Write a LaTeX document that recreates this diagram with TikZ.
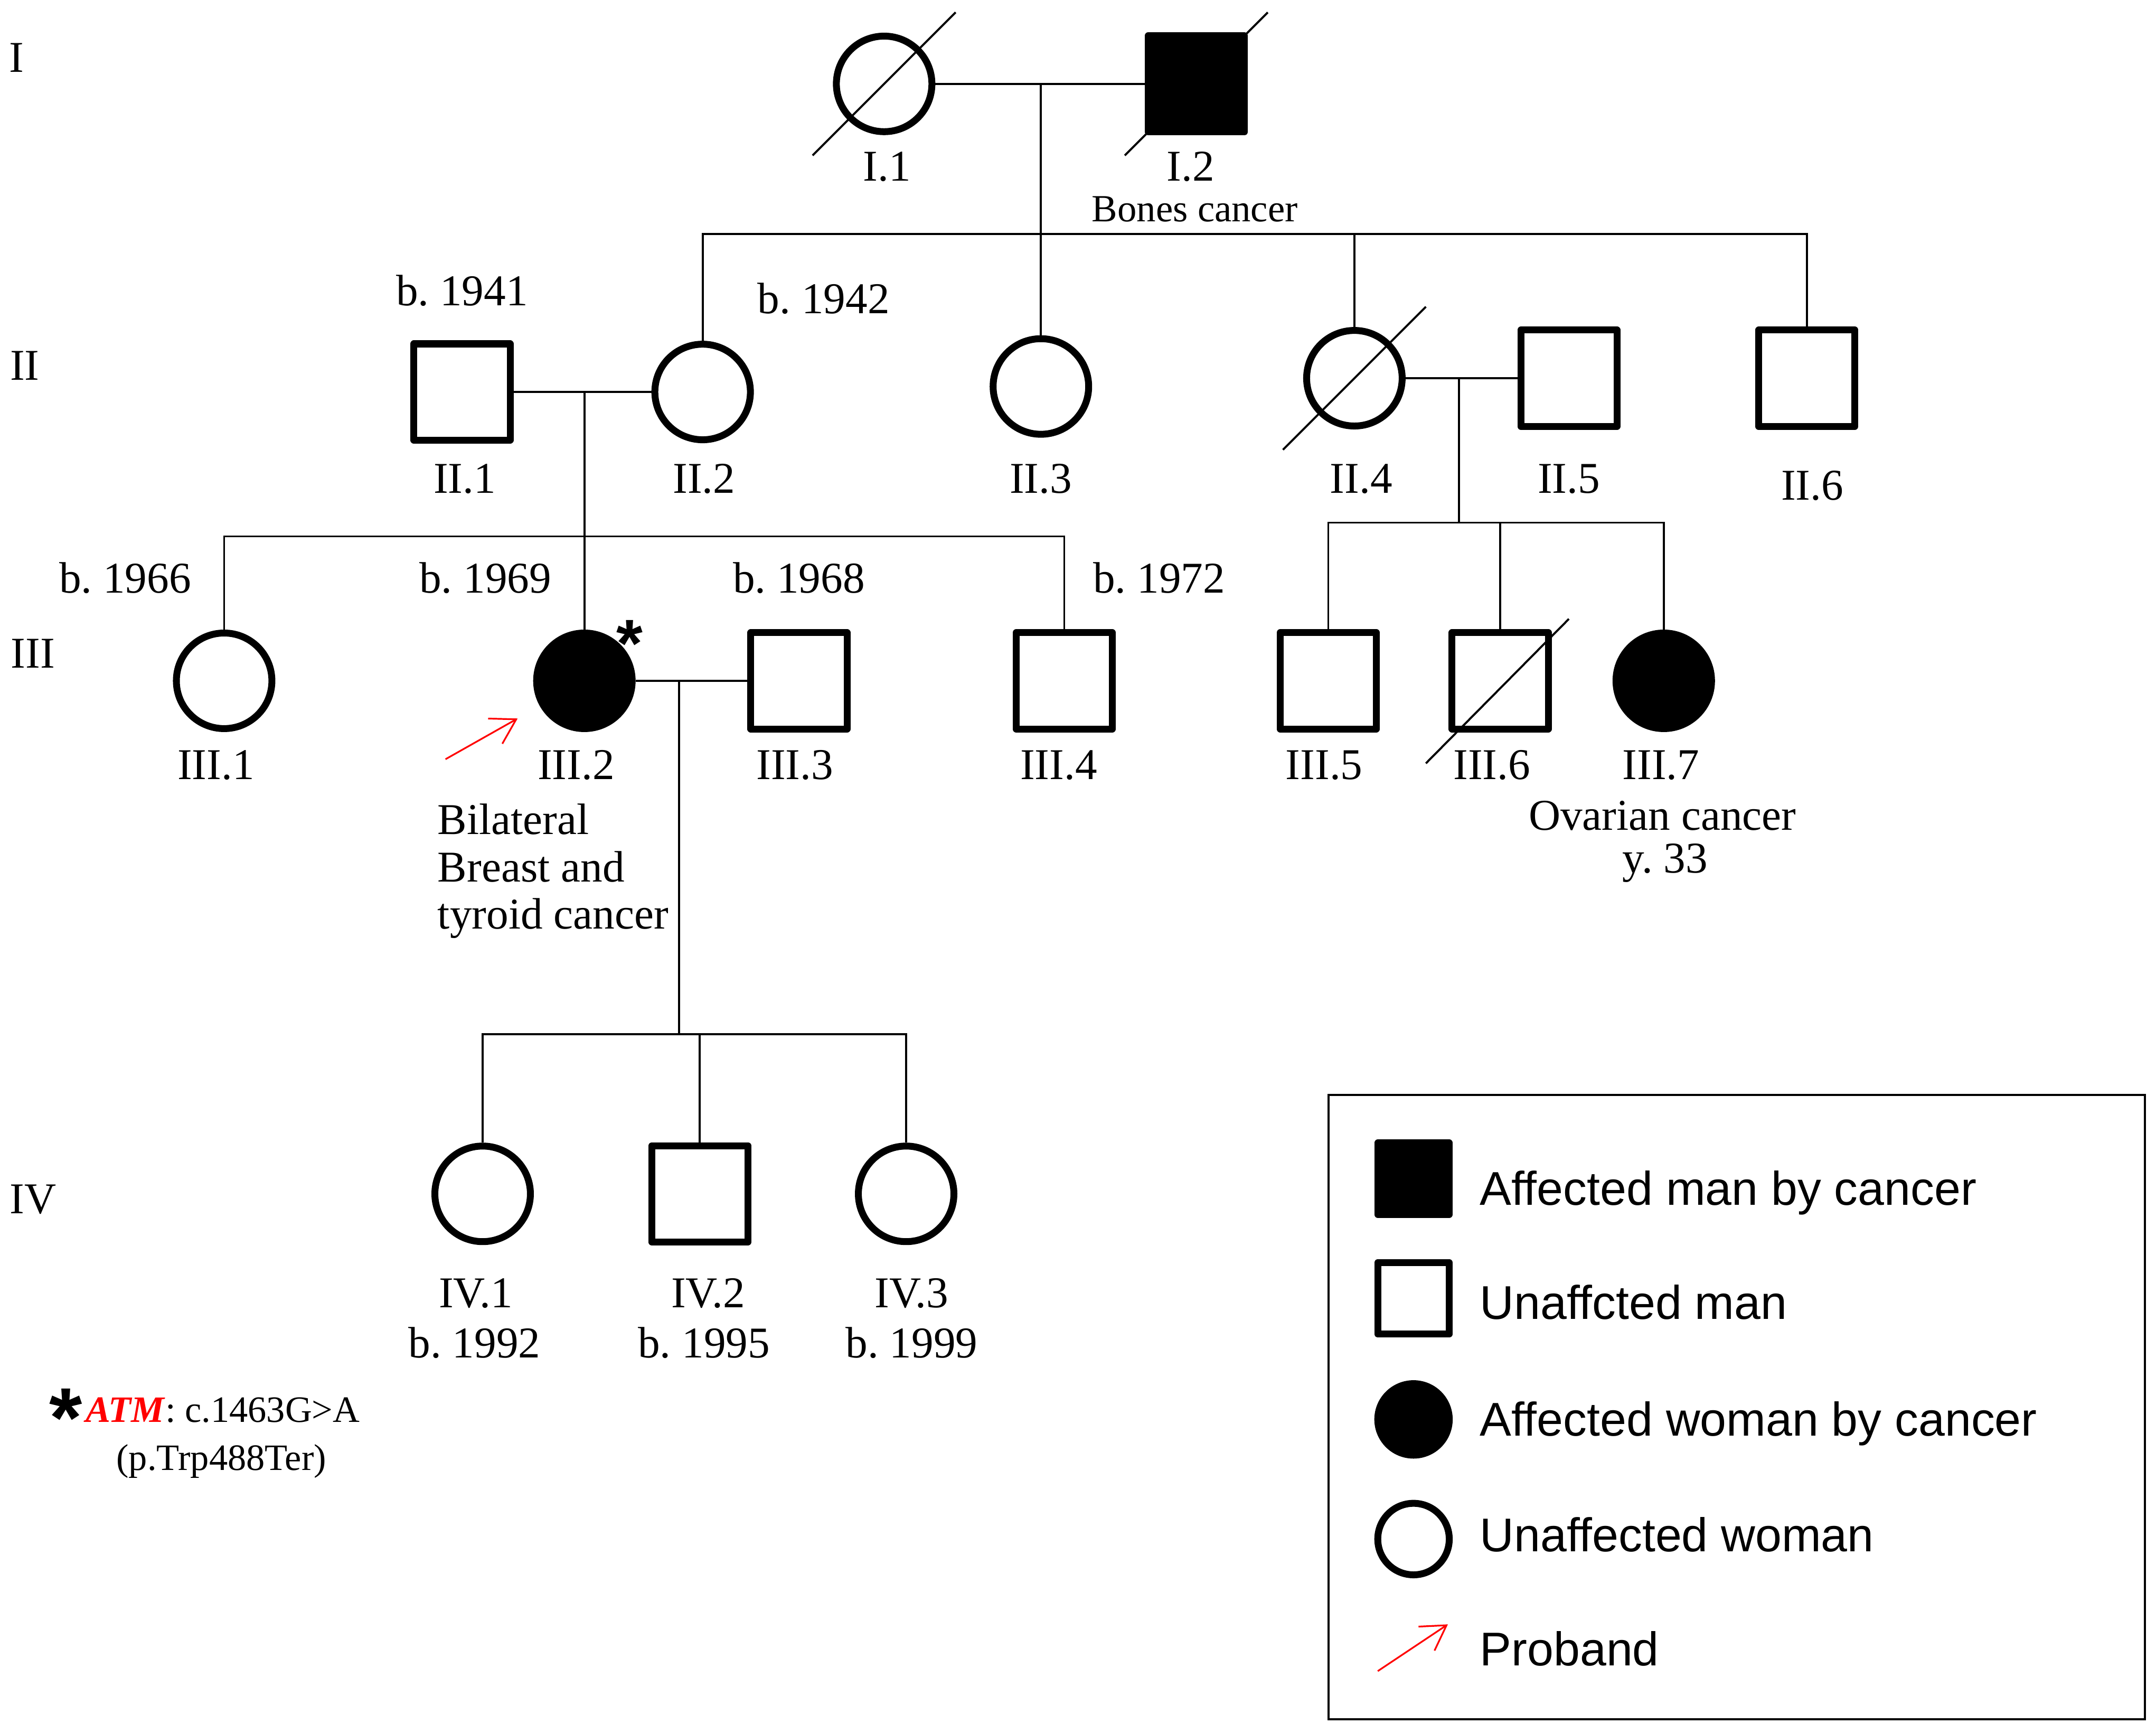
\documentclass[tikz,border=0pt]{standalone}
\usepackage{fontspec}
\setmainfont{Liberation Serif}
\setsansfont{Liberation Sans}
\usepackage{tikz}
\usetikzlibrary{arrows.meta}
\usetikzlibrary{positioning}
\frenchspacing
\newcommand{\pedfont}{\fontsize{18.2}{19.6}\selectfont}
\newcommand{\smallpedfont}{\fontsize{15.9}{17}\selectfont}
\newcommand{\notefont}{\fontsize{15.4}{17}\selectfont}
\newcommand{\keyfont}{\sffamily\fontsize{19.6}{22}\selectfont}
\tikzset{
male/.style = { rectangle, draw = black, fill = white, line width = 2.85pt, line join = round, minimum size = 14mm, inner sep = 0pt },
female/.style = { circle, draw = black, fill = white, line width = 2.85pt, minimum size = 13.9mm, inner sep = 0pt },
affected/.style = { fill = black },
key male/.style = { male, minimum size = 10.4mm },
key female/.style = { female, minimum size = 10.4mm },
link/.style = { draw = black, line width = 0.85pt },
dead/.style = { draw = black, line width = 0.85pt },
proband/.style = { draw = red, line width = 0.7pt, -{Straight Barb[length = 3.5mm, width = 4.2mm]} },
lbl/.style = { font = \pedfont, inner sep = 0pt, text depth = 0pt },
keytext/.style = { font = \keyfont, inner sep = 0pt, anchor = base west },
star/.style = { font = \sffamily\bfseries\fontsize{#1}{#1}\selectfont, inner sep = 0pt, anchor = base },
}
\begin{document}
\begin{tikzpicture}[x = 0.02cm, y = -0.02cm]
    \useasboundingbox (0, 0) rectangle (1568, 1260);
    \node[lbl] (gI) at (12, 42) {I};
    \node[lbl] (gII) at (18, 266) {II};
    \node[lbl] (gIII) at (24, 475) {III};
    \node[lbl] (gIV) at (24, 872) {IV};
    % generation I
    \node[female] (I1) at (643, 61) {};
    \node[male, affected] (I2) at (870, 61) {};
    \draw[dead] (I1) ++(-52, 52) -- ++(104, -104);
    \draw[dead] (I2) ++(-52, 52) -- ++(104, -104);
    \node[lbl] (I1 lab) at (645, 121) {I.1};
    \node[lbl] (I2 lab) at (866, 121) {I.2};
    \node[lbl, font = \smallpedfont] (I2 note) at (869, 152) {Bones cancer};
    \coordinate (mI) at (757, 61);
    \coordinate (sII) at (757, 170);
    \draw[link] (I1) -- (I2);
    \draw[link] (mI) -- (sII);
    % generation II
    \node[male] (II1) at (336, 285) {};
    \node[female] (II2) at (511, 285) {};
    \node[female] (II3) at (757, 281) {};
    \node[female] (II4) at (985, 275) {};
    \node[male] (II5) at (1141, 275) {};
    \node[male] (II6) at (1314, 275) {};
    \draw[dead] (II4) ++(-52, 52) -- ++(104, -104);
    \draw[link] (II2.north) |- (sII) -| (II6.north);
    \draw[link] (II3) -- (sII);
    \draw[link] (II4.north) -- (II4.north |- sII);
    \draw[link] (II1) -- (II2);
    \draw[link] (II4) -- (II5);
    \node[lbl] (II1 yr) at (336, 211) {b. 1941};
    \node[lbl] (II2 yr) at (599, 217) {b. 1942};
    \node[lbl] (II1 lab) at (338, 348) {II.1};
    \node[lbl] (II2 lab) at (512, 348) {II.2};
    \node[lbl] (II3 lab) at (757, 348) {II.3};
    \node[lbl] (II4 lab) at (990, 348) {II.4};
    \node[lbl] (II5 lab) at (1141, 348) {II.5};
    \node[lbl] (II6 lab) at (1318, 353) {II.6};
    \coordinate (mII) at (425, 285);
    \coordinate (sIII) at (425, 390);
    \coordinate (mIIb) at (1061, 275);
    \coordinate (sIIIb) at (1061, 380);
    % generation III
    \node[female] (III1) at (163, 495) {};
    \node[female, affected] (III2) at (425, 495) {};
    \node[male] (III3) at (581, 495) {};
    \node[male] (III4) at (774, 495) {};
    \node[male] (III5) at (966, 495) {};
    \node[male] (III6) at (1091, 495) {};
    \node[female, affected] (III7) at (1210, 495) {};
    \draw[dead] (III6) ++(-54, 60) -- ++(104, -105);
    \draw[link] (mII) -- (III2);
    \draw[link] (III1.north) |- (sIII) -| (III4.north);
    \draw[link] (mIIb) -- (sIIIb);
    \draw[link] (III5.north) |- (sIIIb) -| (III7.north);
    \draw[link] (III6.north) -- (III6.north |- sIIIb);
    \draw[link] (III2) -- (III3);
    \node[star = 28] (III2 star) at (458, 485) {*};
    \node[lbl] (III1 yr) at (91, 420) {b. 1966};
    \node[lbl] (III2 yr) at (353, 420) {b. 1969};
    \node[lbl] (III3 yr) at (581, 420) {b. 1968};
    \node[lbl] (III4 yr) at (843, 420) {b. 1972};
    \node[lbl] (III1 lab) at (157, 556) {III.1};
    \node[lbl] (III2 lab) at (419, 556) {III.2};
    \node[lbl] (III3 lab) at (578, 556) {III.3};
    \node[lbl] (III4 lab) at (770, 556) {III.4};
    \node[lbl] (III5 lab) at (963, 556) {III.5};
    \node[lbl] (III6 lab) at (1085, 556) {III.6};
    \node[lbl] (III7 lab) at (1208, 556) {III.7};
    \node[lbl, align = left, anchor = north west] (III2 note) at (318, 584) {Bilateral\\Breast and\\tyroid cancer};
    \node[lbl] (III7 note) at (1209, 593) {Ovarian cancer};
    \node[lbl] (III7 age) at (1211, 624) {y. 33};
    \coordinate (pb) at (324, 552);
    \draw[proband, shorten > = 0.37cm] (pb) -- (III2);
    \coordinate (mIII) at (494, 495);
    \coordinate (sIV) at (494, 752);
    \draw[link] (mIII) -- (sIV);
    % generation IV
    \node[female] (IV1) at (351, 868) {};
    \node[male] (IV2) at (509, 868) {};
    \node[female] (IV3) at (659, 868) {};
    \draw[link] (IV1.north) |- (sIV) -| (IV3.north);
    \draw[link] (IV2.north) -- (IV2.north |- sIV);
    \node[lbl] (IV1 lab) at (346, 940) {IV.1};
    \node[lbl] (IV2 lab) at (515, 940) {IV.2};
    \node[lbl] (IV3 lab) at (663, 940) {IV.3};
    \node[lbl] (IV1 yr) at (345, 976) {b. 1992};
    \node[lbl] (IV2 yr) at (512, 976) {b. 1995};
    \node[lbl] (IV3 yr) at (663, 976) {b. 1999};
    % variant note
    \node[star = 35] (fn star) at (48, 1052) {*};
    \node[font = \notefont, inner sep = 0pt, anchor = base west] (fn) at (62, 1034) {\textcolor{red}{\textbf{\textit{ATM}}}: c.1463G>A};
    \node[font = \notefont, inner sep = 0pt, anchor = base] (fn2) at (161, 1069) {(p.Trp488Ter)};
    % legend
    \node[draw = black, line width = 0.85pt, minimum width = 11.88cm, minimum height = 9.08cm, inner sep = 0pt] (key) at (1263, 1023) {};
    \node[key male, affected] (k1) at (1028, 857) {};
    \node[keytext] (k1 lab) at (1076, 876) {Affected man by cancer};
    \node[key male] (k2) at (1028, 944) {};
    \node[keytext] (k2 lab) at (1076, 959) {Unaffcted man};
    \node[key female, affected] (k3) at (1028, 1032) {};
    \node[keytext] (k3 lab) at (1076, 1044) {Affected woman by cancer};
    \node[key female] (k4) at (1028, 1119) {};
    \node[keytext] (k4 lab) at (1076, 1128) {Unaffected woman};
    \coordinate (k5a) at (1002, 1215);
    \coordinate (k5b) at (1053, 1181);
    \draw[proband] (k5a) -- (k5b);
    \node[keytext] (k5 lab) at (1076, 1211) {Proband};
\end{tikzpicture}
\end{document}
